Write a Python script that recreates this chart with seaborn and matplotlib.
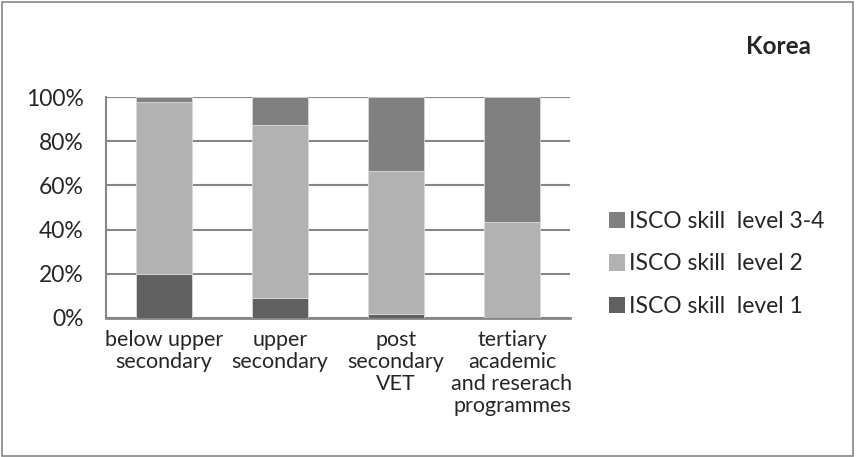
import matplotlib
matplotlib.use("Agg")
import matplotlib.pyplot as plt
from matplotlib.patches import Patch, Rectangle
import seaborn as sns
import pandas as pd

categories = ["below upper\nsecondary", "upper\nsecondary", "post\nsecondary\nVET",
              "tertiary\nacademic\nand reserach\nprogrammes"]
level1 = [20.0, 9.0, 1.7, 0.0]
level2 = [77.6, 78.5, 64.8, 43.3]
level3_4 = [2.4, 12.5, 33.5, 56.7]
series_names = ["ISCO skill  level 1", "ISCO skill  level 2", "ISCO skill  level 3-4"]
colors = ["#606060", "#b2b2b2", "#808080"]

df = pd.DataFrame({"cat": categories, "l1": level1, "l2": level2, "l3": level3_4})
df["b2"] = df["l1"]
df["b3"] = df["l1"] + df["l2"]

sns.set_style("white")
plt.rcParams["font.family"] = ["Lato", "DejaVu Sans"]

fig = plt.figure(figsize=(8.56, 4.57), dpi=100)
ax = fig.add_axes([106 / 856, 1 - 318 / 457, 464 / 856, 221 / 457])

for col, bcol, color in [("l1", None, colors[0]), ("l2", "b2", colors[1]), ("l3", "b3", colors[2])]:
    kw = {}
    if bcol is not None:
        kw["bottom"] = df[bcol]
    sns.barplot(data=df, x="cat", y=col, color=color, width=0.49, ax=ax,
                saturation=1, edgecolor="#d8d8d8", linewidth=0.6, zorder=3, **kw)

ax.set_ylim(0, 100)
ax.set_xlim(-0.5, 3.5)
ax.set_yticks([0, 20, 40, 60, 80, 100])
ax.set_yticklabels(["0%", "20%", "40%", "60%", "80%", "100%"], fontsize=16.5)
ax.tick_params(axis="y", length=0, pad=16)
ax.tick_params(axis="x", length=0, pad=9)
ax.set_xticks(range(len(categories)))
ax.set_xticklabels(categories, fontsize=15.5, linespacing=1.12, va="top")
ax.set_xlabel("")
ax.set_ylabel("")
ax.yaxis.grid(True, color="#868686", linewidth=1.5, zorder=0)
ax.set_axisbelow(True)
for s in ["top", "right"]:
    ax.spines[s].set_visible(False)
ax.spines["left"].set_color("#868686")
ax.spines["left"].set_linewidth(1.5)
ax.spines["bottom"].set_color("#868686")
ax.spines["bottom"].set_linewidth(2)

handles = [Patch(facecolor=colors[i], edgecolor="none") for i in [2, 1, 0]]
labels = [series_names[i] for i in [2, 1, 0]]
fig.legend(handles, labels, loc="center left", bbox_to_anchor=(588 / 856, 1 - 264 / 457),
           frameon=False, fontsize=16.5, handlelength=0.7, handleheight=0.7,
           handletextpad=0.2, labelspacing=0.95, borderpad=0.4)

fig.text(778 / 856, 1 - 47 / 457, "Korea", fontsize=17.5, fontweight="bold",
         ha="center", va="center")

fig.patches.append(Rectangle((0.002, 0.003), 0.995, 0.993, transform=fig.transFigure,
                             fill=False, edgecolor="#868686", linewidth=1.2))

fig.savefig("out.png", dpi=100)
